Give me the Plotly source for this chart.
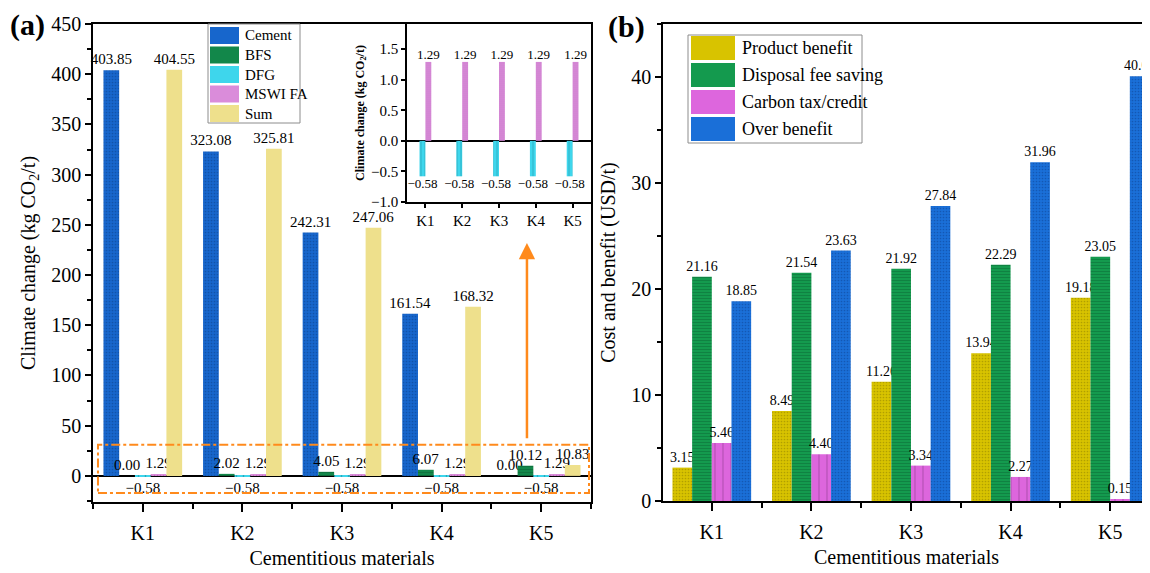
import plotly.graph_objects as go

# ---------------- data ----------------
categories = ["K1", "K2", "K3", "K4", "K5"]

# panel (a): climate change, kg CO2/t
cement = [403.85, 323.08, 242.31, 161.54, 0.00]
bfs = [0.00, 2.02, 4.05, 6.07, 10.12]
dfg = [-0.58, -0.58, -0.58, -0.58, -0.58]
mswi = [1.29, 1.29, 1.29, 1.29, 1.29]
total = [404.55, 325.81, 247.06, 168.32, 10.83]

# panel (b): cost and benefit, USD/t
product = [3.15, 8.49, 11.26, 13.94, 19.18]
disposal = [21.16, 21.54, 21.92, 22.29, 23.05]
carbon = [5.46, 4.40, 3.34, 2.27, 0.15]
overall = [18.85, 23.63, 27.84, 31.96, 40.08]

xpos = list(range(len(categories)))
SERIF = "Liberation Serif, Times New Roman, serif"
ORANGE = "#FF8A1C"

# the page body adds an 8px offset; the figure is sized to fill the rest of the window
W, H, OFF = 1142, 565, 8


def X(px):
    return (px - OFF) / W


def Y(py):
    return 1 - (py - OFF) / H


def lab(vals):
    return [f"{v:.2f}".replace("-", "\u2212") for v in vals]


fig = go.Figure()

# ---------------- panel (a) ----------------
a_series = [
    ("Cement", cement, "#1766CC", dict(shape=".", fgcolor="#0C3F86", size=3, solidity=0.25)),
    ("BFS", bfs, "#12874A", dict(shape="-", fgcolor="#0A5A30", size=3, solidity=0.3)),
    ("DFG", dfg, "#3ED6EC", dict(shape="|", fgcolor="#137C8C", size=7, solidity=0.2)),
    ("MSWI FA", mswi, "#DA8CDA", dict(shape=".", fgcolor="#9A529A", size=3, solidity=0.25)),
    ("Sum", total, "#EEE08C", None),
]
for name, vals, col, pat in a_series:
    marker = dict(color=col, line=dict(width=0))
    if pat:
        marker["pattern"] = pat
    fig.add_trace(go.Bar(
        x=xpos, y=vals, name=name, marker=marker, showlegend=False,
        text=lab(vals), textposition="outside", constraintext="none",
        textfont=dict(family=SERIF, size=15, color="black"),
        cliponaxis=False, xaxis="x", yaxis="y",
    ))

# ---------------- inset (zoom on DFG / MSWI FA) ----------------
for name, vals, col, pat, off in [
    ("DFG", dfg, "#3ED6EC", dict(shape="|", fgcolor="#137C8C", size=4, solidity=0.2), -0.08),
    ("MSWI FA", mswi, "#DA8CDA", dict(shape=".", fgcolor="#9A529A", size=2, solidity=0.25), 0.08),
]:
    fig.add_trace(go.Bar(
        x=xpos, y=vals, name=name, showlegend=False,
        marker=dict(color=col, line=dict(width=0), pattern=pat),
        width=0.16, offset=off - 0.08,
        text=lab(vals), textposition="outside", constraintext="none",
        textfont=dict(family=SERIF, size=13, color="black"),
        cliponaxis=False, xaxis="x3", yaxis="y3",
    ))

# ---------------- panel (b) ----------------
b_series = [
    ("Product benefit", product, "#D8C300", dict(shape=".", fgcolor="#8A7C00", size=3, solidity=0.25)),
    ("Disposal fee saving", disposal, "#149A4E", dict(shape="-", fgcolor="#0B6433", size=3, solidity=0.3)),
    ("Carbon tax/credit", carbon, "#DD66DD", dict(shape="|", fgcolor="#8E3C8E", size=8, solidity=0.15)),
    ("Over benefit", overall, "#1A6FD8", dict(shape=".", fgcolor="#0C4290", size=3, solidity=0.25)),
]
for name, vals, col, pat in b_series:
    fig.add_trace(go.Bar(
        x=xpos, y=vals, name=name, showlegend=False,
        marker=dict(color=col, line=dict(width=0), pattern=pat),
        text=lab(vals), textposition="outside", constraintext="none",
        textfont=dict(family=SERIF, size=14, color="black"),
        cliponaxis=False, xaxis="x2", yaxis="y2",
    ))

# ---------------- legends (drawn as boxes + swatches + text) ----------------
shapes = []
annotations = []


def add_legend(series, box, x_sw, sw_w, sw_h, x_txt, y0, dy, fsize):
    bx0, by0, bx1, by1 = box
    shapes.append(dict(type="rect", xref="paper", yref="paper", x0=X(bx0), x1=X(bx1),
                       y0=Y(by1), y1=Y(by0), line=dict(color="#8c8c8c", width=1),
                       fillcolor="white", layer="above"))
    for i, s in enumerate(series):
        name, col = s[0], s[2]
        yc = y0 + i * dy
        shapes.append(dict(type="rect", xref="paper", yref="paper", x0=X(x_sw), x1=X(x_sw + sw_w),
                           y0=Y(yc + sw_h / 2), y1=Y(yc - sw_h / 2), line=dict(width=0),
                           fillcolor=col, layer="above"))
        annotations.append(dict(x=X(x_txt), y=Y(yc), xref="paper", yref="paper", xanchor="left",
                                yanchor="middle", text=name, showarrow=False,
                                font=dict(family=SERIF, size=fsize, color="black")))


add_legend(a_series, (208, 24, 300, 123), 210, 29, 17, 243, 35.5, 19.5, 15)
add_legend(b_series, (688, 35, 862, 143), 691, 44, 24, 740, 48, 27, 18)

axis_common = dict(showline=True, linecolor="black", linewidth=1.5, mirror=True,
                   ticks="outside", tickcolor="black", tickwidth=1.5, automargin=False,
                   showgrid=False, tickfont=dict(family=SERIF, size=20, color="black"))
minor_x = dict(dtick=1, tick0=0.5, ticklen=5, ticks="outside", tickcolor="black", tickwidth=1.5)

shapes.append(dict(type="rect", xref="x", yref="y", x0=-0.45, x1=4.48, y0=-17, y1=31,
                   line=dict(color=ORANGE, width=2, dash="dashdot"), fillcolor="rgba(0,0,0,0)",
                   layer="above"))
annotations += [
    dict(x=3.857, y=232, ax=3.857, ay=36, xref="x", yref="y", axref="x", ayref="y",
         text="", showarrow=True, arrowhead=2, arrowsize=1.3, arrowwidth=2.5, arrowcolor=ORANGE),
    dict(x=X(8), y=Y(25), xref="paper", yref="paper", xanchor="left", yanchor="middle",
         text="<b>(a)</b>", showarrow=False, font=dict(family=SERIF, size=30, color="black")),
    dict(x=X(606), y=Y(27), xref="paper", yref="paper", xanchor="left", yanchor="middle",
         text="<b>(b)</b>", showarrow=False, font=dict(family=SERIF, size=30, color="black")),
]

fig.update_layout(
    width=W, height=H,
    margin=dict(l=0, r=0, t=0, b=0),
    paper_bgcolor="white", plot_bgcolor="white",
    barmode="group", bargap=0.21, bargroupgap=0,
    font=dict(family=SERIF, color="black"),
    showlegend=False,
    xaxis=dict(axis_common, domain=[X(93), X(591)], range=[-0.5, 4.5],
               tickvals=xpos, ticktext=categories, ticklen=8, ticklabelstandoff=4,
               minor=minor_x,
               title=dict(text="Cementitious materials", font=dict(family=SERIF, size=20), standoff=8),
               anchor="y"),
    yaxis=dict(axis_common, domain=[Y(502), Y(24)], range=[-26, 450],
               tickvals=[0, 50, 100, 150, 200, 250, 300, 350, 400, 450], ticklen=6,
               minor=dict(dtick=25, tick0=0, ticklen=4, ticks="outside", tickcolor="black", tickwidth=1.5),
               zeroline=True, zerolinecolor="black", zerolinewidth=1.5,
               title=dict(text="Climate change (kg CO<sub>2</sub>/t)", font=dict(family=SERIF, size=20), standoff=10),
               anchor="x"),
    xaxis2=dict(axis_common, domain=[X(663), 1.0], range=[-0.49, 4.40],
                tickvals=xpos, ticktext=categories, ticklen=8, ticklabelstandoff=4,
                minor=minor_x,
                title=dict(text="Cementitious materials", font=dict(family=SERIF, size=20), standoff=8),
                anchor="y2"),
    yaxis2=dict(axis_common, domain=[Y(501), Y(24)], range=[0, 45],
                tickvals=[0, 10, 20, 30, 40], ticklen=6, mirror=False,
                minor=dict(dtick=5, tick0=0, ticklen=4, ticks="outside", tickcolor="black", tickwidth=1.5),
                title=dict(text="Cost and benefit (USD/t)", font=dict(family=SERIF, size=20), standoff=10),
                anchor="x2"),
    xaxis3=dict(axis_common, domain=[X(407), X(591)], range=[-0.5, 4.5],
                tickvals=xpos, ticktext=categories, ticklen=4,
                tickfont=dict(family=SERIF, size=15, color="black"),
                anchor="y3"),
    yaxis3=dict(axis_common, domain=[Y(202), Y(24)], range=[-1.0, 1.91],
                tickvals=[-1.0, -0.5, 0.0, 0.5, 1.0, 1.5], tickformat=".1f", ticklen=4,
                tickfont=dict(family=SERIF, size=15, color="black"),
                zeroline=True, zerolinecolor="black", zerolinewidth=1.5,
                title=dict(text="<b>Climate change (kg CO<sub>2</sub>/t)</b>", font=dict(family=SERIF, size=12), standoff=4),
                anchor="x3"),
    shapes=shapes,
    annotations=annotations,
)

fig.write_html("out.html")
